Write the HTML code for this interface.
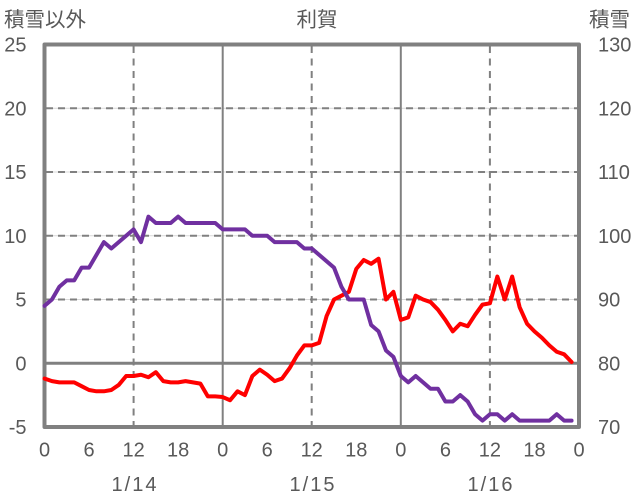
<!DOCTYPE html>
<html>
<head>
<meta charset="utf-8">
<style>
html,body{margin:0;padding:0;background:#fff;}
svg{display:block;}
text{font-family:"Liberation Sans","Noto Sans CJK JP",sans-serif;fill:#595959;font-size:20px;}
.cjk{font-family:"Noto Sans CJK JP","Liberation Sans",sans-serif;font-size:20.5px;}
</style>
</head>
<body>
<svg width="636" height="501" viewBox="0 0 636 501" xmlns="http://www.w3.org/2000/svg">
  <!-- titles -->
  <text class="cjk" x="4" y="26.5">積雪以外</text>
  <text class="cjk" x="317" y="26.5" text-anchor="middle">利賀</text>
  <text class="cjk" x="589" y="26.5">積雪</text>

  <!-- horizontal gridlines light -->
  <g stroke="#d9d9d9" stroke-width="1">
    <line x1="46" y1="108.25" x2="577" y2="108.25"/>
    <line x1="46" y1="172" x2="577" y2="172"/>
    <line x1="46" y1="235.75" x2="577" y2="235.75"/>
    <line x1="46" y1="299.5" x2="577" y2="299.5"/>
  </g>
  <!-- horizontal dashed -->
  <g stroke="#808080" stroke-width="2" stroke-dasharray="7,5">
    <line x1="46" y1="108.25" x2="577" y2="108.25"/>
    <line x1="46" y1="172" x2="577" y2="172"/>
    <line x1="46" y1="235.75" x2="577" y2="235.75"/>
    <line x1="46" y1="299.5" x2="577" y2="299.5"/>
  </g>
  <!-- vertical dashed -->
  <g stroke="#808080" stroke-width="2" stroke-dasharray="7,5.5">
    <line x1="133.6" y1="46" x2="133.6" y2="425"/>
    <line x1="311.7" y1="46" x2="311.7" y2="425"/>
    <line x1="489.9" y1="46" x2="489.9" y2="425"/>
  </g>
  <!-- vertical solid -->
  <g stroke="#808080" stroke-width="2">
    <line x1="222.7" y1="46" x2="222.7" y2="425"/>
    <line x1="400.8" y1="46" x2="400.8" y2="425"/>
  </g>
  <!-- zero line -->
  <line x1="46" y1="363.25" x2="577" y2="363.25" stroke="#808080" stroke-width="3"/>

  <!-- frame -->
  <rect x="44.5" y="44.5" width="534.5" height="382.5" fill="none" stroke="#808080" stroke-width="4" stroke-linejoin="round"/>

  <!-- red series (left axis) -->
  <g transform="translate(44.5,363.25) scale(7.4236,-12.75)">
    <polyline fill="none" stroke="#ff0000" stroke-width="4" stroke-linejoin="round" stroke-linecap="round" vector-effect="non-scaling-stroke"
      points="0,-1.2 1,-1.4 2,-1.5 3,-1.5 4,-1.5 5,-1.8 6,-2.1 7,-2.2 8,-2.2 9,-2.1 10,-1.7 11,-1.0 12,-1.0 13,-0.9 14,-1.1 15,-0.7 16,-1.4 17,-1.5 18,-1.5 19,-1.4 20,-1.5 21,-1.6 22,-2.6 23,-2.6 24,-2.65 25,-2.9 26,-2.2 27,-2.5 28,-1.0 29,-0.5 30,-0.9 31,-1.4 32,-1.2 33,-0.4 34,0.6 35,1.4 36,1.4 37,1.6 38,3.7 39,5.0 40,5.3 41,5.6 42,7.4 43,8.1 44,7.8 45,8.2 46,5.0 47,5.6 48,3.4 49,3.6 50,5.3 51,5.0 52,4.8 53,4.2 54,3.4 55,2.5 56,3.1 57,2.9 58,3.8 59,4.6 60,4.7 61,6.8 62,5.0 63,6.8 64,4.4 65,3.1 66,2.5 67,2.0 68,1.4 69,0.9 70,0.7 71,0.1"/>
  </g>
  <!-- purple series (right axis) -->
  <g transform="translate(44.5,873.25) scale(7.4236,-6.375)">
    <polyline fill="none" stroke="#7030a0" stroke-width="4" stroke-linejoin="round" stroke-linecap="round" vector-effect="non-scaling-stroke"
      points="0,89 1,90 2,92 3,93 4,93 5,95 6,95 7,97 8,99 9,98 10,99 11,100 12,101 13,99 14,103 15,102 16,102 17,102 18,103 19,102 20,102 21,102 22,102 23,102 24,101 25,101 26,101 27,101 28,100 29,100 30,100 31,99 32,99 33,99 34,99 35,98 36,98 37,97 38,96 39,95 40,92 41,90 42,90 43,90 44,86 45,85 46,82 47,81 48,78 49,77 50,78 51,77 52,76 53,76 54,74 55,74 56,75 57,74 58,72 59,71 60,72 61,72 62,71 63,72 64,71 65,71 66,71 67,71 68,71 69,72 70,71 71,71"/>
  </g>

  <!-- left axis labels -->
  <g text-anchor="end">
    <text x="26.5" y="51.7">25</text>
    <text x="26.5" y="115.5">20</text>
    <text x="26.5" y="179.2">15</text>
    <text x="26.5" y="243">10</text>
    <text x="26.5" y="306.7">5</text>
    <text x="26.5" y="370.5">0</text>
    <text x="26.5" y="434.2">-5</text>
  </g>
  <!-- right axis labels -->
  <g>
    <text x="598" y="51.7">130</text>
    <text x="598" y="115.5">120</text>
    <text x="598" y="179.2">110</text>
    <text x="598" y="243">100</text>
    <text x="598" y="306.7">90</text>
    <text x="598" y="370.5">80</text>
    <text x="598" y="434.2">70</text>
  </g>
  <!-- bottom hour labels -->
  <g text-anchor="middle">
    <text x="44.5" y="456.5">0</text>
    <text x="89.0" y="456.5">6</text>
    <text x="133.6" y="456.5">12</text>
    <text x="178.1" y="456.5">18</text>
    <text x="222.7" y="456.5">0</text>
    <text x="267.2" y="456.5">6</text>
    <text x="311.7" y="456.5">12</text>
    <text x="356.3" y="456.5">18</text>
    <text x="400.8" y="456.5">0</text>
    <text x="445.4" y="456.5">6</text>
    <text x="489.9" y="456.5">12</text>
    <text x="534.5" y="456.5">18</text>
    <text x="579.0" y="456.5">0</text>
  </g>
  <!-- date labels -->
  <g>
    <text x="111.5" y="491" textLength="45" lengthAdjust="spacing">1/14</text>
    <text x="289.5" y="491" textLength="45" lengthAdjust="spacing">1/15</text>
    <text x="467.5" y="491" textLength="45" lengthAdjust="spacing">1/16</text>
  </g>
</svg>
</body>
</html>
